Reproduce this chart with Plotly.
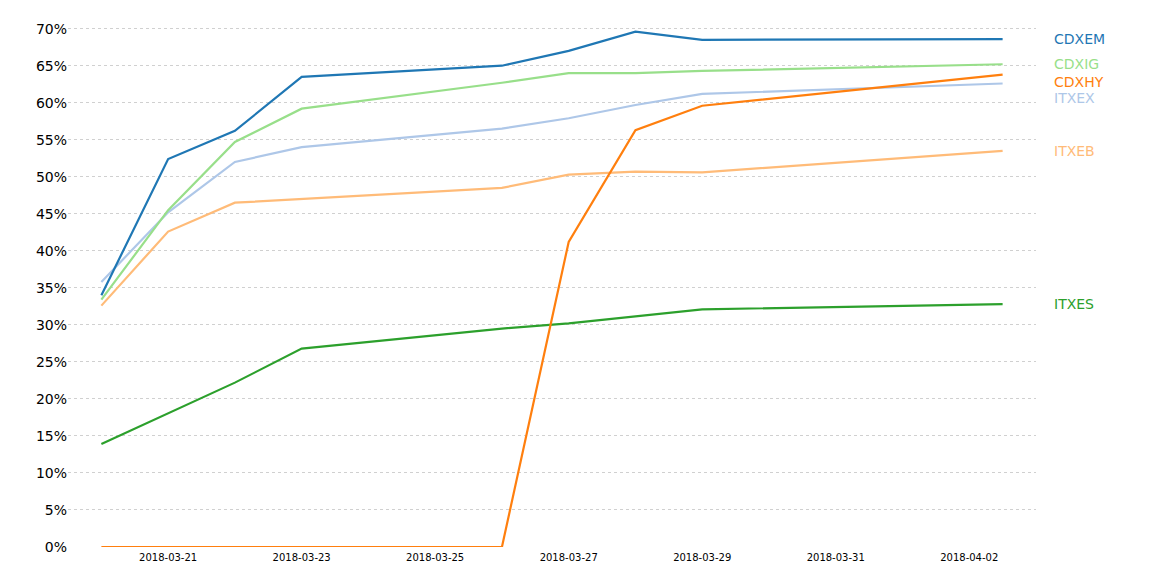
import plotly.graph_objects as go

dates = ["2018-03-20", "2018-03-21", "2018-03-22", "2018-03-23", "2018-03-26",
         "2018-03-27", "2018-03-28", "2018-03-29", "2018-04-02 12:00"]

cdxem = [0.340, 0.524, 0.562, 0.635, 0.650, 0.670, 0.696, 0.685, 0.686]
cdxig = [0.334, 0.455, 0.547, 0.592, 0.627, 0.640, 0.640, 0.643, 0.652]
cdxhy = [0.0, 0.0, 0.0, 0.0, 0.0, 0.412, 0.563, 0.596, 0.638]
itxex = [0.358, 0.452, 0.520, 0.540, 0.565, 0.579, 0.597, 0.612, 0.626]
itxeb = [0.326, 0.426, 0.465, 0.470, 0.485, 0.503, 0.507, 0.506, 0.535]
itxes = [0.139, 0.181, 0.222, 0.268, 0.295, 0.302, 0.312, 0.321, 0.328]

series_names = ["ITXES", "ITXEB", "ITXEX", "CDXIG", "CDXHY", "CDXEM"]
series_values = [itxes, itxeb, itxex, cdxig, cdxhy, cdxem]
series_colors = ["#2ca02c", "#ffbb78", "#aec7e8", "#98df8a", "#ff7f0e", "#1f77b4"]
label_yshift = {"CDXHY": -7, "ITXEX": -15}

fig = go.Figure()
for name, vals, col in zip(series_names, series_values, series_colors):
    fig.add_trace(go.Scatter(x=dates, y=vals, mode="lines", name=name,
                             line=dict(color=col, width=2.2)))
    fig.add_annotation(x=1, xref="paper", y=vals[-1], yref="y", text=name,
                       showarrow=False, xanchor="left", xshift=16,
                       yshift=label_yshift.get(name, 0),
                       font=dict(color=col, size=14, family="DejaVu Sans"))

fig.update_layout(
    width=1152, height=576,
    margin=dict(l=60, r=124, t=17, b=37),
    paper_bgcolor="white", plot_bgcolor="white",
    showlegend=False,
    font=dict(family="DejaVu Sans", color="#000"),
)
fig.update_xaxes(
    type="date", range=["2018-03-19 12:00", "2018-04-03"],
    tick0="2018-03-21", dtick=2 * 86400000, tickformat="%Y-%m-%d",
    showgrid=False, zeroline=False, showline=False, ticks="",
    tickfont=dict(size=10), ticklabelstandoff=3,
)
fig.update_yaxes(
    range=[0, 0.705], dtick=0.05, tickformat=".0%",
    showgrid=True, gridcolor="#d0d0d0", griddash="dot", gridwidth=0.8,
    zeroline=False, showline=False, ticks="",
    tickfont=dict(size=14),
)

fig.write_html("out.html")
